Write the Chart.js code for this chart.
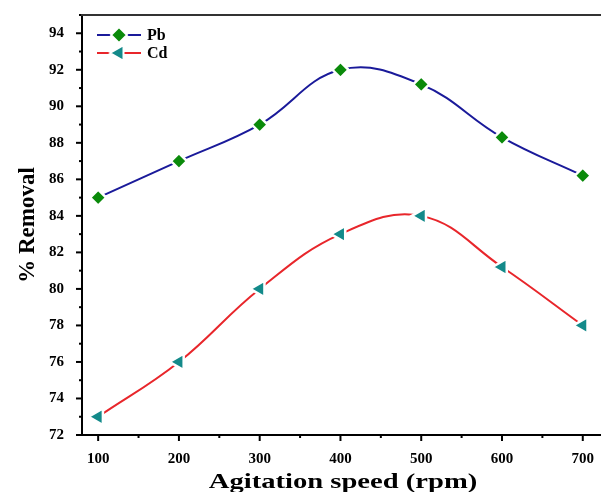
<!DOCTYPE html>
<html>
<head>
<meta charset="utf-8">
<script src="https://cdn.jsdelivr.net/npm/chart.js@4/dist/chart.umd.min.js"></script>
<style>
  html, body { margin: 0; padding: 0; background: #fff; overflow: hidden; }
  #wrap { width: 620px; height: 492px; position: relative; }
</style>
</head>
<body>
<div id="wrap"><canvas id="c"></canvas></div>
<script>
const speeds = [100, 200, 300, 400, 500, 600, 700];
const pb = [85.0, 87.0, 89.0, 92.0, 91.2, 88.3, 86.2];
const cd = [73.0, 76.0, 80.0, 83.0, 84.0, 81.2, 78.0];
const xTicks = [100, 200, 300, 400, 500, 600, 700];
const yTicks = [72, 74, 76, 78, 80, 82, 84, 86, 88, 90, 92, 94];

const FONT = '"Liberation Serif", "Times New Roman", serif';
const PB_LINE = '#1a1a9a', PB_MARK = '#0a8a0a';
const CD_LINE = '#e8262b', CD_MARK = '#138a8a';

// ticks (major/minor, outward), top frame line, x title and legend
const frame = {
  id: 'frame',
  afterDraw(c) {
    const { ctx, chartArea: a, scales: { x, y } } = c;
    ctx.save();
    ctx.strokeStyle = '#000';
    ctx.lineWidth = 2;
    for (let v = 100; v <= 700; v += 50) {
      const px = x.getPixelForValue(v);
      const len = v % 100 === 0 ? 6 : 3;
      ctx.beginPath(); ctx.moveTo(px, a.bottom); ctx.lineTo(px, a.bottom + len); ctx.stroke();
    }
    for (let v = 72; v <= 95; v += 1) {
      const py = y.getPixelForValue(v);
      const len = v % 2 === 0 ? 6 : 3;
      ctx.beginPath(); ctx.moveTo(a.left, py); ctx.lineTo(a.left - len, py); ctx.stroke();
    }
    ctx.strokeStyle = '#333';
    ctx.beginPath(); ctx.moveTo(a.left - 1, a.top); ctx.lineTo(a.right, a.top); ctx.stroke();

    // x title, wide lettering as in the source figure
    ctx.save();
    ctx.translate(343, 488);
    ctx.scale(1.3, 1);
    ctx.fillStyle = '#000';
    ctx.font = 'bold 22px ' + FONT;
    ctx.textAlign = 'center';
    ctx.textBaseline = 'alphabetic';
    ctx.fillText('Agitation speed (rpm)', 0, 0);
    ctx.restore();

    const items = [
      { label: 'Pb', line: PB_LINE, mark: PB_MARK, style: 'rectRot', rot: 0, r: 8, y: a.top + 20 },
      { label: 'Cd', line: CD_LINE, mark: CD_MARK, style: 'triangle', rot: -90, r: 9, y: a.top + 38 },
    ];
    const x0 = a.left + 15;
    items.forEach((it) => {
      ctx.strokeStyle = it.line;
      ctx.lineWidth = 2;
      ctx.beginPath(); ctx.moveTo(x0, it.y); ctx.lineTo(x0 + 44, it.y); ctx.stroke();
      ctx.fillStyle = it.mark;
      ctx.strokeStyle = '#fff';
      ctx.lineWidth = 2;
      Chart.helpers.drawPoint(ctx, { pointStyle: it.style, radius: it.r, rotation: it.rot, borderWidth: 2 }, x0 + 22, it.y);
      ctx.fillStyle = '#000';
      ctx.font = 'bold 16px ' + FONT;
      ctx.textBaseline = 'middle';
      ctx.fillText(it.label, x0 + 50, it.y + 1);
    });
    ctx.restore();
  }
};

function ds(label, data, line, mark, style, rot, r) {
  return {
    label,
    data: speeds.map((s, i) => ({ x: s, y: data[i] })),
    borderColor: line,
    borderWidth: 2,
    tension: 0.4,
    fill: false,
    pointStyle: style,
    pointRotation: rot,
    pointRadius: r,
    pointHoverRadius: r,
    pointBackgroundColor: mark,
    pointBorderColor: '#fff',
    pointBorderWidth: 2.5,
  };
}

new Chart(document.getElementById('c'), {
  type: 'line',
  data: {
    datasets: [
      ds('Pb', pb, PB_LINE, PB_MARK, 'rectRot', 0, 8),
      ds('Cd', cd, CD_LINE, CD_MARK, 'triangle', -90, 9.5),
    ],
  },
  options: {
    responsive: true,
    maintainAspectRatio: false,
    animation: false,
    layout: { padding: { top: 15, right: 13, left: 0, bottom: 0 } },
    plugins: { legend: { display: false }, tooltip: { enabled: false } },
    scales: {
      x: {
        type: 'linear',
        min: 80,
        max: 730,
        afterBuildTicks: (s) => { s.ticks = xTicks.map((v) => ({ value: v })); },
        afterFit: (s) => { s.height = 57; s.paddingLeft = 0; s.paddingRight = 0; },
        grid: { display: false },
        border: { display: true, color: '#000', width: 2 },
        ticks: { color: '#000', padding: 7, maxRotation: 0, font: { family: FONT, size: 15, weight: 'bold' } },
        title: { display: false },
      },
      y: {
        min: 72,
        max: 95,
        afterBuildTicks: (s) => { s.ticks = yTicks.map((v) => ({ value: v })); },
        afterFit: (s) => { s.width = 82; s.paddingTop = 0; s.paddingBottom = 0; },
        grid: { display: false },
        border: { display: true, color: '#000', width: 2 },
        ticks: { color: '#000', padding: 10, font: { family: FONT, size: 15, weight: 'bold' } },
        title: { display: true, text: '% Removal', color: '#000', padding: { top: 14, bottom: 0 },
          font: { family: FONT, size: 23, weight: 'bold' } },
      },
    },
  },
  plugins: [frame],
});
</script>
</body>
</html>
